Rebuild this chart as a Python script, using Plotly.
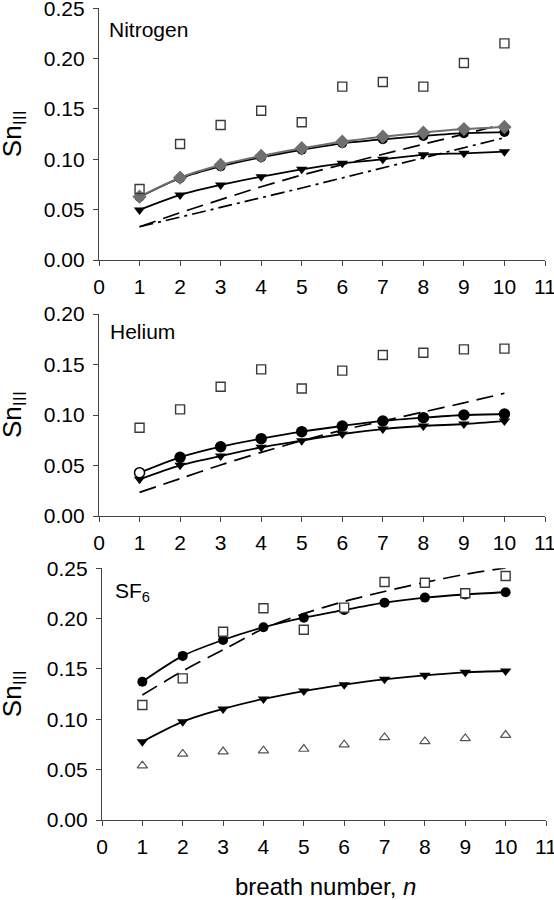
import plotly.graph_objects as go

# ---------------- data ----------------
n = [1, 2, 3, 4, 5, 6, 7, 8, 9, 10]
x_ticks = [0, 1, 2, 3, 4, 5, 6, 7, 8, 9, 10, 11]

# Nitrogen
n2_square = [0.0705, 0.1152, 0.1341, 0.1483, 0.1368, 0.1722, 0.1768, 0.1722, 0.1957, 0.2152]
n2_diamond = [0.0629, 0.0818, 0.0944, 0.1033, 0.1110, 0.1175, 0.1225, 0.1265, 0.1300, 0.1321]
n2_circle = [0.0625, 0.0812, 0.0930, 0.1020, 0.1095, 0.1159, 0.1199, 0.1232, 0.1260, 0.1271]
n2_tri = [0.0497, 0.0646, 0.0745, 0.0828, 0.0901, 0.0960, 0.1000, 0.1045, 0.1060, 0.1076]
n2_dash = [0.033, 0.047, 0.060, 0.0728, 0.0844, 0.095, 0.105, 0.115, 0.125, 0.135]
n2_dashdot = [0.033, 0.0425, 0.052, 0.0615, 0.0715, 0.0815, 0.0915, 0.1015, 0.1115, 0.1215]

# Helium
he_square = [0.0874, 0.1056, 0.1280, 0.1452, 0.1262, 0.1439, 0.1594, 0.1617, 0.1650, 0.1657]
he_circle = [0.0429, 0.0581, 0.0686, 0.0766, 0.0835, 0.0891, 0.0941, 0.0974, 0.1000, 0.1010]
he_tri = [0.0363, 0.0502, 0.0594, 0.0680, 0.0746, 0.0812, 0.0861, 0.0891, 0.0911, 0.0940]
he_dash = [0.0234, 0.037, 0.0505, 0.063, 0.0745, 0.085, 0.094, 0.103, 0.112, 0.1215]

# SF6
sf6_square = [0.1142, 0.1407, 0.1870, 0.2103, 0.1890, 0.2109, 0.2364, 0.2357, 0.2252, 0.2424]
sf6_circle = [0.1374, 0.1630, 0.1788, 0.1914, 0.2010, 0.2086, 0.2159, 0.2209, 0.2240, 0.2262]
sf6_tri = [0.0778, 0.0977, 0.1103, 0.1202, 0.1281, 0.1344, 0.1397, 0.1437, 0.1467, 0.1480]
sf6_open_tri = [0.054, 0.0656, 0.068, 0.0689, 0.0705, 0.0748, 0.082, 0.078, 0.081, 0.0844]
sf6_dash = [0.1242, 0.148, 0.169, 0.190, 0.205, 0.217, 0.227, 0.236, 0.244, 0.2505]

panel_labels = ["Nitrogen", "Helium", "SF<sub>6</sub>"]
y_title = "Sn<sub>III</sub>"
x_title = "breath number, <i>n</i>"

# ---------------- styles ----------------
FONT = "Liberation Sans, Arial, sans-serif"
W, H = 554, 900
BLACK = "#000000"
GRAY = "#6f6f6f"
SQ = "#3a3a3a"

fig = go.Figure()

def fit_line(x, y, ax, color=BLACK, width=1.8, dash="solid", shape="spline"):
    fig.add_trace(go.Scatter(x=x, y=y, mode="lines", xaxis=ax[0], yaxis=ax[1],
                             line=dict(color=color, width=width, dash=dash, shape=shape, smoothing=0.8),
                             showlegend=False, hoverinfo="skip"))

def markers(x, y, ax, symbol, color, size, line_color=None, line_width=0):
    fig.add_trace(go.Scatter(x=x, y=y, mode="markers", xaxis=ax[0], yaxis=ax[1],
                             marker=dict(symbol=symbol, color=color, size=size,
                                         line=dict(color=line_color or color, width=line_width)),
                             showlegend=False))

A1 = ("x", "y")
A2 = ("x2", "y2")
A3 = ("x3", "y3")

# Nitrogen panel
fit_line(n, n2_dash, A1, dash="17px,8px", shape="linear", width=1.7)
fit_line(n, n2_dashdot, A1, dash="14px,5px,3px,5px", shape="linear", width=1.7)
fit_line(n, n2_tri, A1)
markers(n, n2_tri, A1, "triangle-down", BLACK, 10)
fit_line(n, n2_circle, A1)
markers(n, n2_circle, A1, "circle", BLACK, 10)
fit_line(n, n2_diamond, A1, color=GRAY, width=2)
markers(n, n2_diamond, A1, "diamond", GRAY, 11)
markers(n, n2_square, A1, "square-open", SQ, 9, SQ, 1.4)

# Helium panel
fit_line(n, he_dash, A2, dash="17px,8px", shape="spline", width=1.7)
fit_line(n, he_tri, A2)
markers(n, he_tri, A2, "triangle-down", BLACK, 10)
fit_line(n, he_circle, A2)
he_circle_fill = ["white"] + [BLACK] * 9
fig.add_trace(go.Scatter(x=n, y=he_circle, mode="markers", xaxis="x2", yaxis="y2",
                         marker=dict(symbol="circle", color=he_circle_fill, size=10,
                                     line=dict(color=BLACK, width=1.5)),
                         showlegend=False))
markers(n, he_square, A2, "square-open", SQ, 9, SQ, 1.4)

# SF6 panel
fit_line(n, sf6_dash, A3, dash="17px,8px", shape="spline", width=1.7)
fit_line(n, sf6_tri, A3)
markers(n, sf6_tri, A3, "triangle-down", BLACK, 10)
fit_line(n, sf6_circle, A3)
markers(n, sf6_circle, A3, "circle", BLACK, 10)
fig.add_trace(go.Scatter(x=n, y=sf6_square, mode="markers", xaxis="x3", yaxis="y3",
                         marker=dict(symbol="square", color="white", size=9,
                                     line=dict(color=SQ, width=1.4)),
                         showlegend=False))
markers(n, sf6_open_tri, A3, "triangle-up-open", "#555555", 9, "#555555", 1.2)

# ---------------- axes ----------------
def px_x(p):
    return p / W

def px_y(p):
    return 1 - p / H

tick_font = dict(family=FONT, size=21, color=BLACK)
axis_common = dict(showgrid=False, zeroline=False, showline=True, linecolor="#444444",
                   linewidth=1.3, ticks="outside", ticklen=5, tickcolor="#444444",
                   tickwidth=1.3, tickfont=tick_font, automargin=False,
                   ticklabeloverflow="allow")

xdoms = [(99, 545), (99, 545), (102, 546)]
ydoms = [(8.3, 260), (314, 516), (568.3, 820)]
ymax = [0.25, 0.20, 0.25]

layout = dict(width=W, height=H, margin=dict(l=0, r=0, t=0, b=0),
              paper_bgcolor="white", plot_bgcolor="white", showlegend=False)
for i in range(3):
    sx = "" if i == 0 else str(i + 1)
    layout["xaxis" + sx] = dict(axis_common, domain=[px_x(xdoms[i][0]), px_x(xdoms[i][1])],
                                range=[0, 11], tickmode="array", tickvals=x_ticks,
                                anchor="y" + sx, ticklabelstandoff=3)
    layout["yaxis" + sx] = dict(axis_common, domain=[px_y(ydoms[i][1]), px_y(ydoms[i][0])],
                                range=[0, ymax[i]], dtick=0.05, tick0=0, tickformat=".2f",
                                anchor="x" + sx, ticklabelstandoff=4)
fig.update_layout(**layout)

annotations = []
label_pos = [(107, 29), (108, 332), (113, 592)]
for i, lab in enumerate(panel_labels):
    annotations.append(dict(text=lab, xref="paper", yref="paper",
                            x=px_x(label_pos[i][0]), y=px_y(label_pos[i][1]),
                            xanchor="left", yanchor="middle", showarrow=False,
                            font=dict(family=FONT, size=21, color=BLACK)))
for i in range(3):
    sy = "y" if i == 0 else "y" + str(i + 1)
    annotations.append(dict(text=y_title, xref="paper", yref=sy + " domain",
                            x=px_x(13), y=0.5, xanchor="center", yanchor="middle",
                            textangle=-90, showarrow=False,
                            font=dict(family=FONT, size=26, color=BLACK)))
annotations.append(dict(text=x_title, xref="paper", yref="paper", x=px_x(325), y=px_y(886),
                        xanchor="center", yanchor="middle", showarrow=False,
                        font=dict(family=FONT, size=24, color=BLACK)))
fig.update_layout(annotations=annotations)

fig.write_html("out.html", config={"displayModeBar": False},
               post_script="document.body.style.margin='0';")
